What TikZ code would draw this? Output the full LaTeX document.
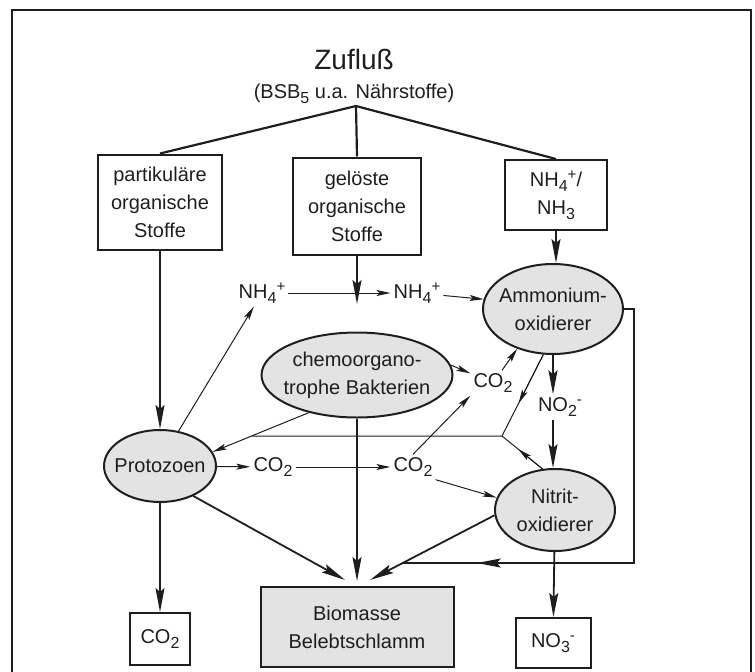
\documentclass[tikz,border=0pt]{standalone}
\usepackage{fontspec}
\setmainfont{Liberation Sans}
\usepackage{tikz}
\usetikzlibrary{arrows.meta,calc,shapes.geometric}
\usepackage{xcolor}
\definecolor{ink}{HTML}{1E1E1E}
\definecolor{shade}{HTML}{E3E3E3}
\newcommand\subtxt[1]{\raisebox{-5pt}{\fontsize{16}{16}\selectfont #1}}
\newcommand\suptxt[1]{\raisebox{7pt}{\fontsize{15}{15}\selectfont #1}}

\tikzset{
  lbl/.style={font=\fontsize{20}{28}\selectfont, text=ink, inner sep=3pt},
  box/.style={lbl, draw=ink, line width=2pt, align=center},
  oval/.style={lbl, ellipse, draw=ink, fill=shade, line width=2pt, align=center,
    inner xsep=-30pt, inner ysep=-15pt},
  thinarrow/.style={draw=ink, line width=1pt, -{Stealth[length=14pt,width=6pt,inset=3pt]}},
  boldarrow/.style={draw=ink, line width=1.8pt, -{Stealth[length=24pt,width=9pt,inset=4pt]}},
  linkline/.style={draw=ink, line width=1pt},
  boldline/.style={draw=ink, line width=1.8pt}
}

\begin{document}
\begin{tikzpicture}[x=1pt,y=-1pt]
  \useasboundingbox (0,0) rectangle (755,672);
  \draw[ink, line width=2pt] (12,672) -- (12,10) -- (751,10) -- (751,672);

  \node[lbl, font=\fontsize{28}{32}\selectfont] (zufluss) at (354,59) {Zufluß};
  \node[lbl] (bsb) at (354,94) {(BSB\subtxt{5} u.a. Nährstoffe)};
  \coordinate (branch) at (356,106);

  % drei Fraktionen des Zuflusses
  \node[box, minimum width=124pt, minimum height=95pt] (part) at (160,202) {partikuläre\\organische\\Stoffe};
  \node[box, minimum width=128pt, minimum height=97pt] (geloest) at (357,206) {gelöste\\organische\\Stoffe};
  \node[box, minimum width=102pt, minimum height=70pt] (nhbox) at (556,195) {NH\subtxt{4}\suptxt{+}/\\NH\subtxt{3}};

  \node[oval, minimum width=140pt, minimum height=90pt] (amm) at (553,309) {Ammonium-\\oxidierer};
  \node[oval, minimum width=191pt, minimum height=85pt] (chemo) at (357,375) {chemoorgano-\\trophe Bakterien};
  \node[oval, minimum width=112pt, minimum height=72pt] (proto) at (160,466) {Protozoen};
  \node[oval, minimum width=120pt, minimum height=82pt] (nit) at (555,510) {Nitrit-\\oxidierer};

  \node[box, fill=shade, minimum width=193pt, minimum height=80pt] (bio) at (357,627) {Biomasse\\Belebtschlamm};
  \node[box, minimum width=60pt, minimum height=52pt] (co2box) at (160,639) {CO\subtxt{2}};
  \node[box, minimum width=75pt, minimum height=50pt] (no3box) at (553,643) {NO\subtxt{3}\suptxt{-}};

  \node[lbl] (nhl) at (262,293) {NH\subtxt{4}\suptxt{+}};
  \node[lbl] (nhr) at (417,293) {NH\subtxt{4}\suptxt{+}};
  \node[lbl] (co2a) at (493,383) {CO\subtxt{2}};
  \node[lbl] (no2) at (560,407) {NO\subtxt{2}\suptxt{-}};
  \node[lbl] (co2b) at (273,467) {CO\subtxt{2}};
  \node[lbl] (co2c) at (413,467) {CO\subtxt{2}};

  \coordinate (gdown) at (357,304);
  \coordinate (junc) at (502,436);
  \coordinate (hleft) at (240,436);
  \coordinate (hmerge) at (intersection of chemo.218--proto.15 and junc--hleft);
  \coordinate (bioL) at (345,580);
  \coordinate (bioM) at (357,581);
  \coordinate (bioR) at (370,580);
  \coordinate (fbcorner) at (634,563);
  \coordinate (fbleft) at (380,563);
  \coordinate (fbmerge) at (intersection of nit.185--bioR and fbcorner--fbleft);
  \coordinate (ammmid) at ($(amm.258)!0.6!(junc)$);
  \coordinate (nitmid) at ($(nit.107)!0.6!(junc)$);
  \coordinate (fbmid) at ($(fbcorner)!0.68!(fbmerge)$);

  \draw[boldline, line width=2.2pt] (branch) -- (part.north);
  \draw[boldline, line width=2.2pt] (branch) -- (geloest.north);
  \draw[boldline, line width=2.2pt] (branch) -- (nhbox.north);

  \draw[boldarrow] (part) -- (proto);
  \draw[boldarrow] (geloest) -- (gdown);
  \draw[boldarrow, line width=1.4pt] (nhbox.south) -- (nhbox.south |- amm.north);
  \draw[thinarrow] (nhl) -- (nhr);
  \draw[thinarrow] (nhr) -- (amm.172);
  \draw[thinarrow] (proto.62) -- (nhl);

  % CO2 und Stickstoff
  \draw[thinarrow] (chemo.6) -- (co2a);
  \draw[thinarrow] (co2a) -- (amm.228);
  \draw[thinarrow] (co2c.north) -- (co2a.south west);
  \draw[thinarrow] (proto) -- (co2b);
  \draw[thinarrow] (co2b) -- (co2c);
  \draw[thinarrow] (co2c.south east) -- (nit.168);
  \draw[boldarrow] (amm.south) -- (amm.south |- no2.north);
  \draw[boldarrow] (no2.south -| amm.south) -- (nit.north -| amm.south);

  % Fraß durch Protozoen
  \draw[linkline] (amm.258) -- (junc);
  \draw[thinarrow] (amm.258) -- (ammmid);
  \draw[linkline] (nit.107) -- (junc);
  \draw[thinarrow] (nit.107) -- (nitmid);
  \draw[linkline] (junc) -- (hmerge);
  \draw[thinarrow] (chemo.218) -- (proto.15);

  % Biomasse
  \draw[boldarrow] (chemo) -- (bioM);
  \draw[boldarrow] (proto.318) -- (bioL);
  \draw[boldarrow] (nit.185) -- (bioR);
  \draw[boldline] (amm.east) -| (fbcorner) -- (fbmerge);
  \draw[boldarrow] (fbcorner) -- (fbmid);
  \draw[boldarrow] (nit) -- (no3box);
  \draw[boldarrow] (proto) -- (co2box);
\end{tikzpicture}
\end{document}
